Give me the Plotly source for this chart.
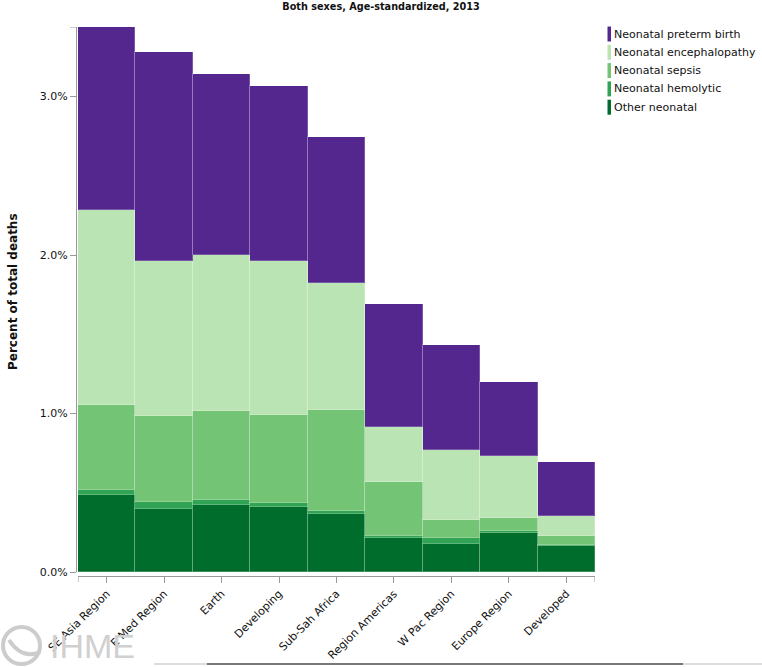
import plotly.graph_objects as go

# ---------------- data ----------------
categories = ["SE Asia Region", "E Med Region", "Earth", "Developing", "Sub-Sah Africa",
              "Region Americas", "W Pac Region", "Europe Region", "Developed"]

other_neonatal = [0.484, 0.400, 0.425, 0.408, 0.369, 0.217, 0.179, 0.249, 0.167]
neonatal_hemolytic = [0.032, 0.040, 0.030, 0.030, 0.016, 0.008, 0.038, 0.010, 0.006]
neonatal_sepsis = [0.536, 0.547, 0.558, 0.553, 0.638, 0.343, 0.114, 0.084, 0.052]
neonatal_encephalopathy = [1.231, 0.974, 0.988, 0.970, 0.800, 0.347, 0.437, 0.387, 0.129]
neonatal_preterm = [1.156, 1.320, 1.141, 1.105, 0.921, 0.775, 0.663, 0.466, 0.340]

y_ticks = [0, 1, 2, 3]
y_tick_labels = ["0.0%", "1.0%", "2.0%", "3.0%"]

series_names = ["Neonatal preterm birth", "Neonatal encephalopathy", "Neonatal sepsis",
                "Neonatal hemolytic", "Other neonatal"]
series_values = [neonatal_preterm, neonatal_encephalopathy, neonatal_sepsis,
                 neonatal_hemolytic, other_neonatal]
series_colors = ["#54278f", "#bae4b3", "#74c476", "#31a354", "#006d2c"]

title_text = "Both sexes, Age-standardized, 2013"
y_title = "Percent of total deaths"

# ---------------- layout geometry (pixels) ----------------
W, H = 762, 667
ML, MR, MT, MB = 74, 167, 27, 91
PW, PH = W - ML - MR, H - MT - MB
FONT = "DejaVu Sans"
AXIS_COLOR = "#999999"


def px_x(p):
    return (p - ML) / PW


def px_y(p):
    return (H - MB - p) / PH


totals = [sum(v) for v in zip(*series_values)]
y_max = max(totals)

fig = go.Figure()
# stack bottom to top: reversed legend order
for name, vals, col in reversed(list(zip(series_names, series_values, series_colors))):
    fig.add_trace(go.Bar(
        x=categories, y=vals, name=name,
        marker=dict(color=col, line=dict(color="rgba(255,255,255,0.22)", width=1)),
        showlegend=False,
    ))

shapes = []
annotations = []

# outer ticks of the x axis (d3 style domain ends)
for xv in (-0.5, len(categories) - 0.5):
    shapes.append(dict(type="line", xref="x", yref="paper", x0=xv, x1=xv,
                       y0=0, y1=-6 / PH, line=dict(color=AXIS_COLOR, width=1)))
# outer tick at top of y axis
shapes.append(dict(type="line", xref="paper", yref="y", x0=px_x(76), x1=px_x(70),
                   y0=y_max, y1=y_max, line=dict(color=AXIS_COLOR, width=1)))

# custom legend (narrow swatches)
row_y = [34, 52.3, 70.6, 88.9, 107.2]
for name, col, ry in zip(series_names, series_colors, row_y):
    shapes.append(dict(type="rect", xref="paper", yref="paper",
                       x0=px_x(607.5), x1=px_x(611), y0=px_y(ry - 7.5), y1=px_y(ry + 7.5),
                       fillcolor=col, line=dict(width=0)))
    annotations.append(dict(text=name, xref="paper", yref="paper", x=px_x(612), y=px_y(ry),
                            xanchor="left", yanchor="middle", showarrow=False,
                            font=dict(family=FONT, size=11, color="#111111")))

# y axis title
annotations.append(dict(text="<b>" + y_title + "</b>", xref="paper", yref="paper",
                        x=px_x(13), y=px_y(292), textangle=-90, showarrow=False,
                        xanchor="center", yanchor="middle",
                        font=dict(family=FONT, size=12, color="#111111")))

# IHME logo (approximate)
shapes.append(dict(type="circle", xref="paper", yref="paper",
                   x0=px_x(3), x1=px_x(40), y0=px_y(664), y1=px_y(627),
                   line=dict(color="#cccccc", width=4)))
shapes.append(dict(type="path", xref="paper", yref="paper",
                   path="M %f,%f Q %f,%f %f,%f" % (px_x(9), px_y(640), px_x(22), px_y(660),
                                                    px_x(40), px_y(652)),
                   line=dict(color="#cccccc", width=4)))
annotations.append(dict(text="IHME", xref="paper", yref="paper", x=px_x(48), y=px_y(645.5),
                        xanchor="left", yanchor="middle", showarrow=False,
                        font=dict(family="Liberation Sans", size=34, color="#d0d0d0")))

# bottom strip
shapes.append(dict(type="line", xref="paper", yref="paper", x0=px_x(154), x1=px_x(762),
                   y0=px_y(664), y1=px_y(664), line=dict(color="#dddddd", width=2)))
shapes.append(dict(type="line", xref="paper", yref="paper", x0=px_x(207), x1=px_x(683),
                   y0=px_y(664), y1=px_y(664), line=dict(color="#777777", width=2)))

fig.update_layout(
    width=W, height=H, autosize=False,
    margin=dict(l=ML, r=MR, t=MT, b=MB, pad=0, autoexpand=False),
    paper_bgcolor="white", plot_bgcolor="white",
    barmode="stack", bargap=0,
    showlegend=False,
    font=dict(family=FONT, size=11, color="#111111"),
    title=dict(text="<b>" + title_text + "</b>", xref="container", yref="container",
               x=0.5, y=1 - 7 / H, xanchor="center", yanchor="middle",
               font=dict(family=FONT, size=9.7, color="#111111")),
    xaxis=dict(domain=[px_x(78), 1], anchor="free", position=0, automargin=False,
               range=[-0.5, len(categories) - 0.5],
               showline=True, linecolor=AXIS_COLOR, linewidth=1,
               ticks="outside", ticklen=6, tickcolor=AXIS_COLOR,
               tickangle=-45, showgrid=False, zeroline=False,
               tickfont=dict(family=FONT, size=11, color="#111111")),
    yaxis=dict(domain=[px_y(572), 1], anchor="free", position=px_x(76), automargin=False,
               range=[0, y_max],
               tickvals=y_ticks, ticktext=y_tick_labels,
               showline=True, linecolor=AXIS_COLOR, linewidth=1,
               ticks="outside", ticklen=6, tickcolor=AXIS_COLOR,
               showgrid=False, zeroline=False,
               tickfont=dict(family=FONT, size=11, color="#111111")),
    shapes=shapes,
    annotations=annotations,
)

fig.write_html("out.html", config={"displayModeBar": False},
               post_script="document.body.style.margin='0px';document.body.style.overflow='hidden';")
